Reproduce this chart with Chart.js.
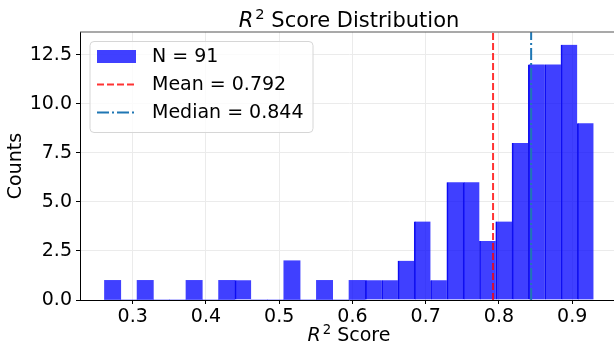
<!DOCTYPE html>
<html>
<head>
<meta charset="utf-8">
<script src="https://cdn.jsdelivr.net/npm/chart.js@4.4.1/dist/chart.umd.min.js"></script>
<style>
  html, body { margin: 0; padding: 0; background: #fff; overflow: hidden; }
  #wrap { width: 614px; height: 349px; overflow: hidden; }
</style>
</head>
<body>
<div id="wrap"><canvas id="grafico" width="622" height="349"></canvas></div>
<script>
// histogram bins (30 bins) and counts
const binMin = 0.2614;
const binWidth = 0.02226;
const counts = [1, 0, 1, 0, 0, 1, 0, 1, 1, 0, 0, 2, 0, 1, 0, 1, 1, 1, 2, 4, 1, 6, 6, 3, 4, 8, 12, 12, 13, 9];

const meanValue = 0.792;
const medianValue = 0.844;

const xTicks = [0.3, 0.4, 0.5, 0.6, 0.7, 0.8, 0.9];
const yTicks = [0, 2.5, 5, 7.5, 10, 12.5];
const xMin = 0.228, xMax = 0.9626;
const yMax = 13.65;

const FONT = "DejaVu Sans";

const barData = counts.map((c, i) => ({ x: binMin + binWidth * (i + 0.5), y: c }));

// draw R^2 with italic R and a raised 2, then the rest
function textoR2(ctx, resto, cx, y, size) {
  ctx.save();
  ctx.textBaseline = "alphabetic";
  ctx.textAlign = "left";
  ctx.fillStyle = "#000";
  ctx.font = `italic ${size}px ${FONT}`;
  const wR = ctx.measureText("R").width;
  ctx.font = `${size * 0.7}px ${FONT}`;
  const w2 = ctx.measureText("2").width;
  ctx.font = `${size}px ${FONT}`;
  const wResto = ctx.measureText(resto).width;
  let x = cx - (wR + 2 + w2 + wResto) / 2;
  ctx.font = `italic ${size}px ${FONT}`;
  ctx.fillText("R", x, y);
  x += wR + 2;
  ctx.font = `${size * 0.7}px ${FONT}`;
  ctx.fillText("2", x, y - size * 0.38);
  x += w2;
  ctx.font = `${size}px ${FONT}`;
  ctx.fillText(resto, x, y);
  ctx.restore();
}

const decoracion = {
  id: "decoracion",
  afterDraw(chart) {
    const ctx = chart.ctx;
    const a = chart.chartArea;
    const cx = (a.left + a.right) / 2;

    // top spine
    ctx.save();
    ctx.strokeStyle = "#555";
    ctx.lineWidth = 1.2;
    ctx.beginPath();
    ctx.moveTo(a.left, a.top);
    ctx.lineTo(a.right, a.top);
    ctx.stroke();
    ctx.restore();

    textoR2(ctx, " Score Distribution", cx, 26.5, 21);
    textoR2(ctx, " Score", cx, 341, 19);

    // y label
    ctx.save();
    ctx.translate(16, (a.top + a.bottom) / 2);
    ctx.rotate(-Math.PI / 2);
    ctx.font = `19px ${FONT}`;
    ctx.fillStyle = "#000";
    ctx.textAlign = "center";
    ctx.textBaseline = "middle";
    ctx.fillText("Counts", 0, 0);
    ctx.restore();

    // legend box
    const lx = 90, ly = 41.5, lw = 223, lh = 91;
    ctx.save();
    ctx.fillStyle = "rgba(255,255,255,0.8)";
    ctx.strokeStyle = "#d6d6d6";
    ctx.lineWidth = 1;
    ctx.beginPath();
    ctx.roundRect(lx, ly, lw, lh, 4);
    ctx.fill();
    ctx.stroke();

    const ds = chart.data.datasets;
    const filas = [ds[2], ds[0], ds[1]];
    filas.forEach((d, i) => {
      const yy = 56.5 + i * 28;
      if (d.type === "line") {
        ctx.strokeStyle = d.borderColor;
        ctx.lineWidth = d.borderWidth;
        ctx.setLineDash(d.borderDash);
        ctx.beginPath();
        ctx.moveTo(97, yy);
        ctx.lineTo(136, yy);
        ctx.stroke();
        ctx.setLineDash([]);
      } else {
        ctx.fillStyle = d.backgroundColor;
        ctx.fillRect(97, yy - 6.5, 39, 13);
      }
      ctx.fillStyle = "#000";
      ctx.font = `19px ${FONT}`;
      ctx.textAlign = "left";
      ctx.textBaseline = "middle";
      ctx.fillText(d.label, 152, yy + 1);
    });
    ctx.restore();
  }
};

new Chart(document.getElementById("grafico"), {
  type: "bar",
  data: {
    datasets: [
      {
        type: "line",
        label: "Mean = " + meanValue.toFixed(3),
        data: [{ x: meanValue, y: 0 }, { x: meanValue, y: yMax }],
        borderColor: "rgba(255,0,0,0.8)",
        borderWidth: 2,
        borderDash: [7, 3],
        pointRadius: 0,
        order: 0
      },
      {
        type: "line",
        label: "Median = " + medianValue.toFixed(3),
        data: [{ x: medianValue, y: 0 }, { x: medianValue, y: yMax }],
        borderColor: "#1f77b4",
        borderWidth: 2,
        borderDash: [12, 3, 2, 3],
        pointRadius: 0,
        order: 0
      },
      {
        label: "N = " + counts.reduce((a, b) => a + b, 0),
        data: barData,
        backgroundColor: "rgba(0,0,255,0.75)",
        borderColor: "rgb(20,20,235)",
        borderWidth: ctx => (ctx.dataIndex > 0 && counts[ctx.dataIndex] > 0 && counts[ctx.dataIndex - 1] > 0
          ? { left: 1, top: 0, right: 0, bottom: 0 } : 0),
        borderSkipped: false,
        barPercentage: 1,
        categoryPercentage: 1,
        order: 1
      }
    ]
  },
  options: {
    responsive: false,
    animation: false,
    devicePixelRatio: 1,
    layout: { padding: { left: 0, top: 32, right: 4, bottom: 0 } },
    plugins: {
      legend: { display: false },
      tooltip: { enabled: false },
      title: { display: false }
    },
    scales: {
      x: {
        type: "linear",
        offset: false,
        min: xMin,
        max: xMax,
        afterBuildTicks: s => { s.ticks = xTicks.map(v => ({ value: v })); },
        afterFit: s => { s.height = 49; },
        ticks: {
          callback: v => v.toFixed(1),
          font: { family: FONT, size: 19 },
          color: "#000",
          padding: 2,
          maxRotation: 0
        },
        grid: { offset: false, color: "#ebebeb", tickColor: "#000", tickLength: 4 },
        border: { color: "#000", width: 1 }
      },
      y: {
        min: 0,
        max: yMax,
        afterBuildTicks: s => { s.ticks = yTicks.map(v => ({ value: v })); },
        afterFit: s => { s.width = 80; },
        ticks: {
          callback: v => v.toFixed(1),
          font: { family: FONT, size: 19 },
          color: "#000",
          padding: 4
        },
        grid: { color: "#ebebeb", tickColor: "#000", tickLength: 4 },
        border: { color: "#000", width: 1 }
      }
    }
  },
  plugins: [decoracion]
});
</script>
</body>
</html>
